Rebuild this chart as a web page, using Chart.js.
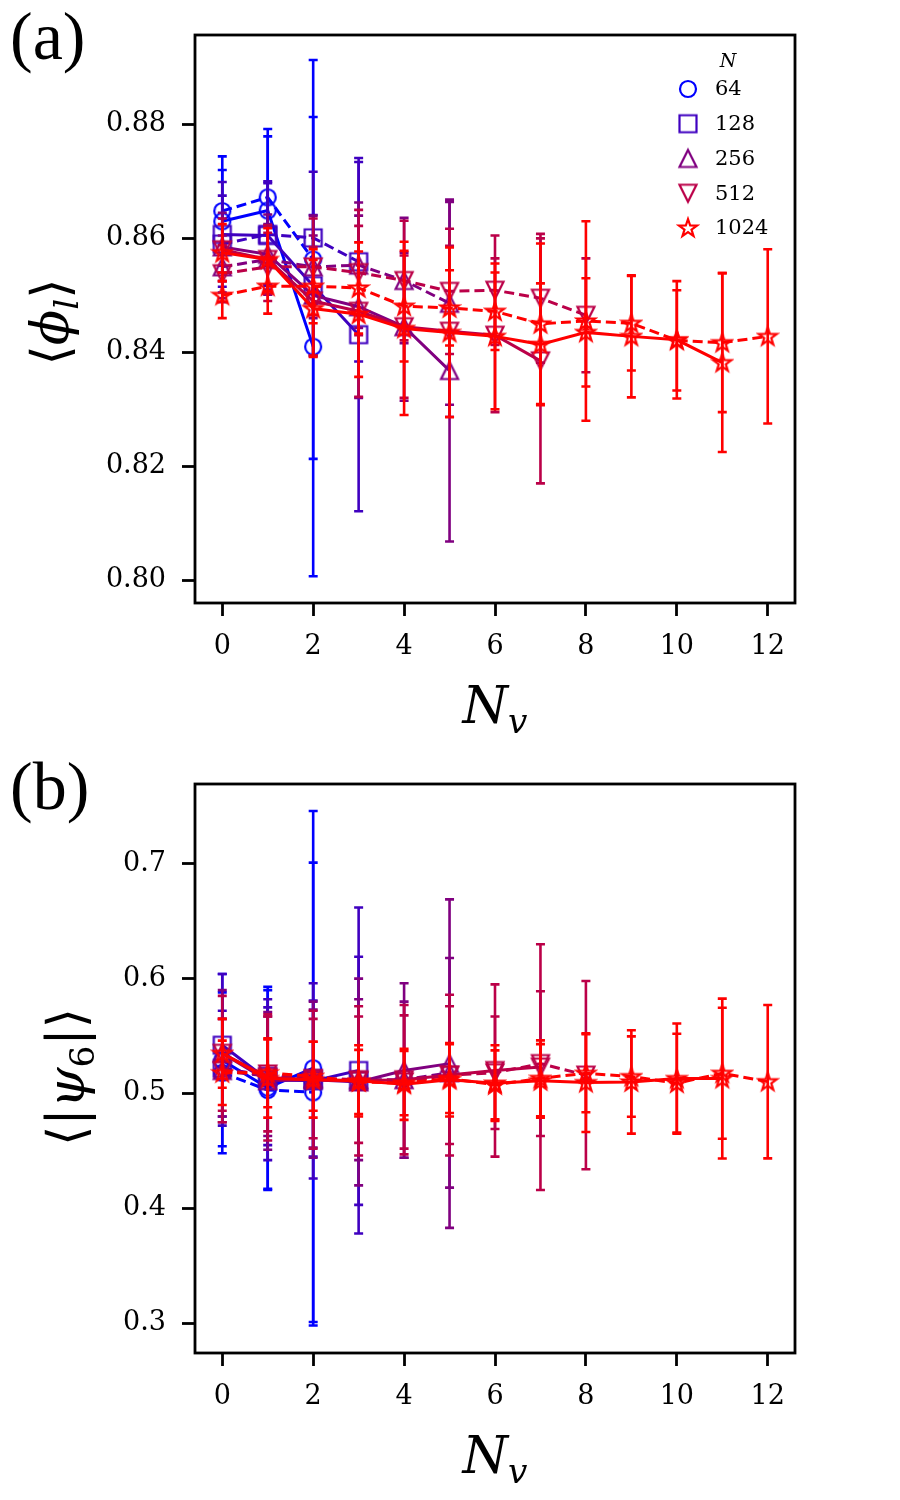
<!DOCTYPE html>
<html>
<head>
<meta charset="utf-8">
<script src="https://cdn.jsdelivr.net/npm/chart.js@4.4.1/dist/chart.umd.min.js"></script>
<style>
  body { margin: 0; background: #fff; }
  #page { position: relative; width: 900px; height: 1500px; }
  canvas { position: absolute; left: 0; }
  .lbl { position: absolute; left: 10px; font-family: 'Liberation Serif', serif; font-size: 68px; line-height: 1; }
  .xt { position: absolute; left: 195px; width: 600px; text-align: center; font-family: 'DejaVu Serif', serif; font-style: italic; font-size: 52px; line-height: 1; }
  .yt { position: absolute; width: 300px; height: 60px; line-height: 60px; text-align: center; transform: rotate(-90deg); font-family: 'DejaVu Serif', serif; font-size: 52px; white-space: nowrap; }
  .sub { position: relative; top: 0.28em; font-size: 0.66em; }
</style>
</head>
<body>
<div id="page">
  <canvas id="chartA" width="900" height="750" style="top:0"></canvas>
  <canvas id="chartB" width="900" height="750" style="top:750px"></canvas>
  <div class="lbl" style="top:2px">(a)</div>
  <div class="lbl" style="top:752px">(b)</div>
  <div class="yt" style="left:-100px; top:292px">⟨<i>ϕ</i><span class="sub"><i>l</i></span>⟩</div>
  <div class="yt" style="left:-84px; top:1047px">⟨|<i>ψ</i><span class="sub">6</span>|⟩</div>
  <div class="xt" style="top:679px">N<span class="sub">v</span></div>
  <div class="xt" style="top:1429px">N<span class="sub">v</span></div>
</div>
<script>
const nv = [0, 1, 2, 3, 4, 5, 6, 7, 8, 9, 10, 11, 12];
const xTicks = [0, 2, 4, 6, 8, 10, 12];
const phiTicks = [0.80, 0.82, 0.84, 0.86, 0.88];
const psiTicks = [0.3, 0.4, 0.5, 0.6, 0.7];
const sizes = ['64', '128', '256', '512', '1024'];
const colors = ['#0000ff', '#3f00c0', '#800080', '#bb0048', '#ff0000'];
const shapes = ['circle', 'square', 'up', 'down', 'star'];

// panel (a): <phi_l>, solid and dashed runs for each N
const phi64Solid = [0.8630, 0.8649, 0.8410];
const phi64SolidErr = [0.0090, 0.0130, 0.0403];
const phi64Dashed = [0.8648, 0.8672, 0.8563];
const phi64DashedErr = [0.0096, 0.0120, 0.0350];
const phi128Solid = [0.8607, 0.8605, 0.8517, 0.8431];
const phi128SolidErr = [0.0092, 0.0095, 0.0124, 0.0310];
const phi128Dashed = [0.8590, 0.8607, 0.8601, 0.8559];
const phi128DashedErr = [0.0085, 0.0090, 0.0116, 0.0175];
const phi256Solid = [0.8585, 0.8572, 0.8500, 0.8480, 0.8445, 0.8368];
const phi256SolidErr = [0.0060, 0.0070, 0.0105, 0.0160, 0.0130, 0.0300];
const phi256Dashed = [0.8550, 0.8563, 0.8550, 0.8553, 0.8526, 0.8486];
const phi256DashedErr = [0.0055, 0.0062, 0.0090, 0.0110, 0.0110, 0.0178];
const phi512Solid = [0.8580, 0.8563, 0.8490, 0.8472, 0.8445, 0.8437, 0.8430, 0.8385];
const phi512SolidErr = [0.0055, 0.0060, 0.0095, 0.0150, 0.0125, 0.0150, 0.0135, 0.0215];
const phi512Dashed = [0.8538, 0.8550, 0.8550, 0.8540, 0.8526, 0.8507, 0.8509, 0.8495, 0.8465];
const phi512DashedErr = [0.0050, 0.0060, 0.0085, 0.0110, 0.0105, 0.0110, 0.0096, 0.0113, 0.0100];
const phi1024Solid = [0.8575, 0.8563, 0.8477, 0.8467, 0.8442, 0.8435, 0.8428, 0.8414, 0.8435, 0.8428, 0.8422, 0.8382];
const phi1024SolidErr = [0.0050, 0.0055, 0.0085, 0.0110, 0.0152, 0.0149, 0.0128, 0.0107, 0.0095, 0.0107, 0.0103, 0.0157];
const phi1024Dashed = [0.8500, 0.8516, 0.8516, 0.8513, 0.8481, 0.8478, 0.8472, 0.8450, 0.8455, 0.8451, 0.8421, 0.8417, 0.8428];
const phi1024DashedErr = [0.0040, 0.0048, 0.0065, 0.0080, 0.0097, 0.0066, 0.0068, 0.0141, 0.0175, 0.0083, 0.0088, 0.0122, 0.0153];

// panel (b): <|psi_6|>
const psi64Solid = [0.529, 0.505, 0.522];
const psi64SolidErr = [0.075, 0.088, 0.224];
const psi64Dashed = [0.518, 0.503, 0.501];
const psi64DashedErr = [0.070, 0.087, 0.200];
const psi128Solid = [0.542, 0.512, 0.511, 0.520];
const psi128SolidErr = [0.062, 0.070, 0.085, 0.142];
const psi128Dashed = [0.522, 0.515, 0.513, 0.511];
const psi128DashedErr = [0.050, 0.060, 0.068, 0.108];
const psi256Solid = [0.535, 0.511, 0.512, 0.510, 0.520, 0.526];
const psi256SolidErr = [0.055, 0.060, 0.068, 0.090, 0.076, 0.143];
const psi256Dashed = [0.520, 0.515, 0.513, 0.512, 0.512, 0.518];
const psi256DashedErr = [0.045, 0.052, 0.060, 0.070, 0.068, 0.100];
const psi512Solid = [0.535, 0.514, 0.512, 0.511, 0.512, 0.516, 0.520, 0.523];
const psi512SolidErr = [0.050, 0.055, 0.060, 0.065, 0.065, 0.070, 0.075, 0.107];
const psi512Dashed = [0.520, 0.517, 0.513, 0.512, 0.510, 0.516, 0.518, 0.526, 0.516];
const psi512DashedErr = [0.045, 0.050, 0.052, 0.055, 0.058, 0.060, 0.049, 0.063, 0.082];
const psi1024Solid = [0.535, 0.513, 0.512, 0.511, 0.508, 0.512, 0.509, 0.511, 0.5095, 0.510, 0.513, 0.513];
const psi1024SolidErr = [0.030, 0.034, 0.033, 0.031, 0.031, 0.032, 0.033, 0.032, 0.043, 0.045, 0.048, 0.0696];
const psi1024Dashed = [0.518, 0.518, 0.515, 0.510, 0.509, 0.513, 0.5075, 0.5132, 0.5176, 0.5147, 0.509, 0.5176, 0.5103];
const psi1024DashedErr = [0.028, 0.030, 0.030, 0.028, 0.028, 0.030, 0.030, 0.033, 0.034, 0.035, 0.043, 0.057, 0.0668];

const phiRuns = [
  [phi64Solid, phi64SolidErr, phi64Dashed, phi64DashedErr],
  [phi128Solid, phi128SolidErr, phi128Dashed, phi128DashedErr],
  [phi256Solid, phi256SolidErr, phi256Dashed, phi256DashedErr],
  [phi512Solid, phi512SolidErr, phi512Dashed, phi512DashedErr],
  [phi1024Solid, phi1024SolidErr, phi1024Dashed, phi1024DashedErr]
];
const psiRuns = [
  [psi64Solid, psi64SolidErr, psi64Dashed, psi64DashedErr],
  [psi128Solid, psi128SolidErr, psi128Dashed, psi128DashedErr],
  [psi256Solid, psi256SolidErr, psi256Dashed, psi256DashedErr],
  [psi512Solid, psi512SolidErr, psi512Dashed, psi512DashedErr],
  [psi1024Solid, psi1024SolidErr, psi1024Dashed, psi1024DashedErr]
];

// open matplotlib-like markers drawn once per colour
function marker(shape, color) {
  const c = document.createElement('canvas');
  c.width = 24; c.height = 24;
  const g = c.getContext('2d');
  g.strokeStyle = color;
  g.lineWidth = 2.2;
  g.beginPath();
  if (shape === 'circle') {
    g.arc(12, 12, 8, 0, Math.PI * 2);
  } else if (shape === 'square') {
    g.rect(3.5, 3.5, 17, 17);
  } else if (shape === 'up') {
    g.moveTo(12, 3.5); g.lineTo(20.5, 20.5); g.lineTo(3.5, 20.5); g.closePath();
  } else if (shape === 'down') {
    g.moveTo(3.5, 3.5); g.lineTo(20.5, 3.5); g.lineTo(12, 20.5); g.closePath();
  } else {
    for (let k = 0; k < 10; k++) {
      const r = k % 2 ? 3.7 : 9.4;
      const a = -Math.PI / 2 + k * Math.PI / 5;
      const px = 12 + r * Math.cos(a), py = 12.5 + r * Math.sin(a);
      if (k) g.lineTo(px, py); else g.moveTo(px, py);
    }
    g.closePath();
  }
  g.stroke();
  return c;
}
const markers = shapes.map((s, k) => marker(s, colors[k]));

function buildDatasets(runs) {
  const out = [];
  runs.forEach((run, k) => {
    [[run[0], run[1], []], [run[2], run[3], [10, 5]]].forEach(([vals, errs, dash]) => {
      out.push({
        label: sizes[k],
        data: vals.map((v, i) => ({ x: nv[i], y: v })),
        errors: errs,
        borderColor: colors[k],
        borderWidth: 3,
        borderDash: dash,
        pointStyle: markers[k],
        pointRadius: 8,
        backgroundColor: 'transparent',
        tension: 0,
        fill: false,
        order: 4 - k
      });
    });
  });
  return out;
}

const errorBars = {
  id: 'errorBars',
  beforeDatasetDraw(chart, args) {
    const ds = chart.data.datasets[args.index];
    if (!ds.errors) return;
    const y = chart.scales.y;
    const ctx = chart.ctx;
    ctx.save();
    ctx.strokeStyle = ds.borderColor;
    ctx.lineWidth = 2.6;
    ctx.setLineDash([]);
    args.meta.data.forEach((pt, i) => {
      const v = ds.data[i].y, e = ds.errors[i];
      const top = y.getPixelForValue(v + e), bot = y.getPixelForValue(v - e);
      ctx.beginPath();
      ctx.moveTo(pt.x, top); ctx.lineTo(pt.x, bot);
      ctx.moveTo(pt.x - 4.5, top); ctx.lineTo(pt.x + 4.5, top);
      ctx.moveTo(pt.x - 4.5, bot); ctx.lineTo(pt.x + 4.5, bot);
      ctx.stroke();
    });
    ctx.restore();
  }
};

const frame = {
  id: 'frame',
  afterDraw(chart) {
    const a = chart.chartArea, ctx = chart.ctx;
    ctx.save();
    ctx.strokeStyle = '#000';
    ctx.lineWidth = 2.8;
    ctx.strokeRect(a.left, a.top, a.right - a.left, a.bottom - a.top);
    ctx.restore();
  }
};

const nLegend = {
  id: 'nLegend',
  afterDraw(chart, args, opts) {
    if (!opts.show) return;
    const a = chart.chartArea, ctx = chart.ctx;
    ctx.save();
    ctx.fillStyle = '#000';
    ctx.textBaseline = 'middle';
    ctx.textAlign = 'center';
    ctx.font = 'italic 19px "DejaVu Serif"';
    ctx.fillText('N', a.right - 67, a.top + 27);
    ctx.textAlign = 'left';
    ctx.font = '21px "DejaVu Serif"';
    sizes.forEach((s, k) => {
      const yy = a.top + 54 + k * 34.75;
      ctx.drawImage(markers[k], a.right - 107 - 12, yy - 12);
      ctx.fillText(s, a.right - 80, yy + 1);
    });
    ctx.restore();
  }
};

const tickFont = { family: 'DejaVu Serif', size: 27 };

function panelOptions(yMin, yMax, yTicks, digits, padTop, showLegend) {
  return {
    responsive: false,
    animation: false,
    layout: { padding: { left: 0, right: 105, top: padTop, bottom: 0 } },
    plugins: {
      legend: { display: false },
      tooltip: { enabled: false },
      nLegend: { show: showLegend }
    },
    scales: {
      x: {
        type: 'linear', min: -0.6, max: 12.6,
        afterBuildTicks: a => { a.ticks = xTicks.map(v => ({ value: v })); },
        afterFit: a => { a.height = 147; },
        grid: { drawOnChartArea: false, tickLength: 13, tickWidth: 2.8, tickColor: '#000' },
        border: { display: false },
        ticks: { color: '#000', font: tickFont, padding: 15, maxRotation: 0, autoSkip: false }
      },
      y: {
        type: 'linear', min: yMin, max: yMax,
        afterBuildTicks: a => { a.ticks = yTicks.map(v => ({ value: v })); },
        afterFit: a => { a.width = 195; },
        grid: { drawOnChartArea: false, tickLength: 13, tickWidth: 2.8, tickColor: '#000' },
        border: { display: false },
        ticks: { color: '#000', font: tickFont, padding: 16, callback: v => Number(v).toFixed(digits) }
      }
    }
  };
}

new Chart(document.getElementById('chartA'), {
  type: 'line',
  data: { datasets: buildDatasets(phiRuns) },
  options: panelOptions(0.7960, 0.8957, phiTicks, 2, 35, true),
  plugins: [errorBars, frame, nLegend]
});

new Chart(document.getElementById('chartB'), {
  type: 'line',
  data: { datasets: buildDatasets(psiRuns) },
  options: panelOptions(0.274, 0.7695, psiTicks, 1, 34, false),
  plugins: [errorBars, frame, nLegend]
});
</script>
</body>
</html>
